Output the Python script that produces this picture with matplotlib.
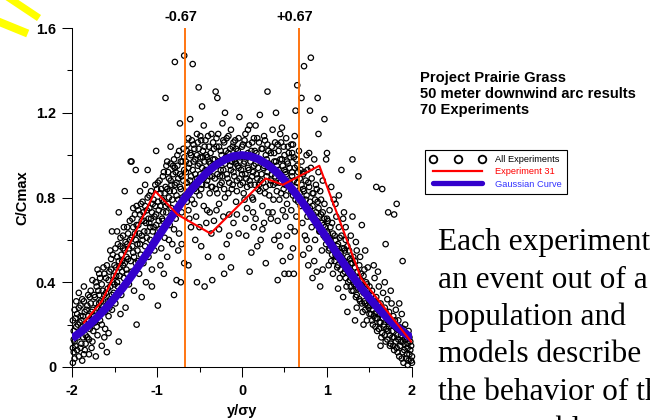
import numpy as np
import matplotlib.pyplot as plt
from matplotlib.lines import Line2D
from matplotlib.ticker import MultipleLocator

plt.rcParams['font.family'] = ['Liberation Sans', 'DejaVu Sans']
plt.rcParams['axes.unicode_minus'] = False

# C/Cmax against y/sigma_y, 50 m arc, all runs (grouped by crosswind band)
band_a = [(-1.99, 0.02), (-1.98, 0.07), (-1.97, 0.12), (-1.98, 0.17), (-1.99, 0.22), (-1.97, 0.27),
          (-1.96, 0.10), (-1.95, 0.19), (-1.94, 0.25), (-1.93, 0.14), (-1.92, 0.05), (-1.91, 0.21),
          (-1.90, 0.29), (-1.89, 0.11), (-1.88, 0.17), (-1.87, 0.24), (-1.86, 0.31), (-1.85, 0.08),
          (-1.84, 0.20), (-1.83, 0.27), (-1.82, 0.14), (-1.81, 0.34), (-1.80, 0.22), (-1.79, 0.18),
          (-1.78, 0.30), (-1.77, 0.26), (-1.76, 0.12), (-1.95, 0.31), (-1.92, 0.35), (-1.86, 0.38),
          (-1.80, 0.06), (-1.78, 0.36), (-1.84, 0.15), (-1.90, 0.24), (-1.76, 0.41), (-1.88, 0.03)]
band_b = [(-1.74, 0.24), (-1.73, 0.33), (-1.72, 0.05), (-1.72, 0.40), (-1.71, 0.19), (-1.70, 0.28),
          (-1.69, 0.36), (-1.68, 0.44), (-1.67, 0.22), (-1.66, 0.31), (-1.65, 0.10), (-1.65, 0.39),
          (-1.64, 0.26), (-1.63, 0.47), (-1.62, 0.34), (-1.61, 0.18), (-1.60, 0.42), (-1.59, 0.07),
          (-1.59, 0.29), (-1.58, 0.37), (-1.57, 0.24), (-1.56, 0.45), (-1.55, 0.32), (-1.54, 0.51),
          (-1.53, 0.64), (-1.53, 0.27), (-1.52, 0.40), (-1.51, 0.35), (-1.50, 0.48), (-1.62, 0.14),
          (-1.68, 0.30), (-1.57, 0.16), (-1.70, 0.46), (-1.55, 0.55)]
band_c = [(-1.49, 0.30), (-1.48, 0.43), (-1.47, 0.52), (-1.46, 0.38), (-1.45, 0.12), (-1.45, 0.73),
          (-1.44, 0.47), (-1.43, 0.57), (-1.42, 0.34), (-1.41, 0.50), (-1.40, 0.62), (-1.39, 0.42),
          (-1.38, 0.83), (-1.38, 0.55), (-1.37, 0.28), (-1.36, 0.46), (-1.35, 0.66), (-1.34, 0.51),
          (-1.33, 0.39), (-1.32, 0.60), (-1.31, 0.97), (-1.30, 0.97), (-1.30, 0.45), (-1.29, 0.70),
          (-1.28, 0.54), (-1.27, 0.36), (-1.26, 0.63), (-1.25, 0.93), (-1.25, 0.49), (-1.24, 0.20),
          (-1.43, 0.25), (-1.35, 0.58), (-1.47, 0.64), (-1.28, 0.75), (-1.40, 0.48)]
band_d = [(-1.24, 0.76), (-1.23, 0.58), (-1.22, 0.67), (-1.21, 0.44), (-1.20, 0.83), (-1.20, 0.72),
          (-1.19, 0.53), (-1.18, 0.62), (-1.17, 0.78), (-1.16, 0.49), (-1.15, 0.69), (-1.14, 0.57),
          (-1.13, 0.40), (-1.12, 0.74), (-1.11, 0.93), (-1.11, 0.64), (-1.10, 0.52), (-1.09, 0.81),
          (-1.08, 0.60), (-1.07, 0.70), (-1.06, 0.46), (-1.05, 0.77), (-1.04, 0.66), (-1.03, 0.55),
          (-1.02, 0.86), (-1.01, 1.02), (-1.01, 0.72), (-1.00, 0.62), (-0.99, 0.87), (-0.99, 0.29),
          (-1.18, 0.33), (-1.06, 0.38), (-1.14, 0.86), (-1.09, 0.68), (-1.22, 0.50), (-1.04, 0.59)]
band_e = [(-0.98, 0.74), (-0.97, 0.65), (-0.96, 0.82), (-0.95, 0.56), (-0.94, 0.70), (-0.93, 0.90),
          (-0.92, 0.78), (-0.91, 0.61), (-0.90, 1.27), (-0.90, 0.85), (-0.89, 0.73), (-0.88, 0.52),
          (-0.87, 0.92), (-0.86, 0.80), (-0.85, 0.67), (-0.84, 1.04), (-0.84, 0.88), (-0.83, 0.75),
          (-0.82, 0.58), (-0.81, 0.95), (-0.80, 0.83), (-0.79, 1.44), (-0.79, 0.94), (-0.78, 0.70),
          (-0.77, 0.87), (-0.76, 1.00), (-0.75, 0.79), (-0.74, 0.63), (-0.73, 1.15), (-0.73, 0.91),
          (-0.72, 0.84), (-0.71, 0.73), (-0.70, 0.97), (-0.69, 0.88), (-0.68, 1.47), (-0.68, 0.99),
          (-0.67, 0.81), (-0.96, 0.48), (-0.92, 0.44), (-0.86, 0.60), (-0.80, 0.65), (-0.75, 0.55),
          (-0.71, 0.58), (-0.68, 0.49), (-0.93, 0.69), (-0.88, 0.97), (-0.77, 0.41), (-0.72, 0.40),
          (-0.80, 0.34)]
band_f = [(-0.66, 0.92), (-0.65, 1.02), (-0.64, 0.85), (-0.63, 1.08), (-0.63, 0.74), (-0.62, 0.96),
          (-0.61, 1.17), (-0.61, 0.88), (-0.60, 1.00), (-0.59, 0.79), (-0.58, 1.43), (-0.58, 0.93),
          (-0.57, 1.05), (-0.56, 0.84), (-0.55, 0.98), (-0.54, 0.71), (-0.53, 1.10), (-0.53, 0.89),
          (-0.52, 0.95), (-0.51, 1.32), (-0.51, 1.03), (-0.50, 0.81), (-0.49, 0.91), (-0.48, 1.07),
          (-0.47, 1.23), (-0.47, 0.86), (-0.46, 0.99), (-0.45, 0.76), (-0.44, 1.04), (-0.43, 0.93),
          (-0.42, 0.68), (-0.41, 0.88), (-0.40, 1.09), (-0.39, 0.97), (-0.38, 0.82), (-0.37, 1.01),
          (-0.36, 0.63), (-0.35, 0.90), (-0.34, 1.06), (-0.33, 0.95), (-0.53, 0.40), (-0.44, 0.38),
          (-0.35, 0.41), (-0.63, 0.48), (-0.55, 0.60), (-0.48, 0.57), (-0.40, 0.52), (-0.60, 0.66),
          (-0.45, 1.14), (-0.65, 0.78), (-0.38, 0.73), (-0.57, 0.86), (-0.49, 0.99), (-0.42, 1.00),
          (-0.36, 0.85)]
band_g = [(-0.32, 0.98), (-0.31, 1.30), (-0.31, 0.84), (-0.30, 1.04), (-0.29, 1.27), (-0.29, 0.91),
          (-0.28, 1.10), (-0.27, 0.77), (-0.26, 0.97), (-0.25, 1.02), (-0.24, 0.87), (-0.23, 1.15),
          (-0.22, 0.93), (-0.21, 0.44), (-0.21, 1.06), (-0.20, 0.80), (-0.19, 0.99), (-0.18, 1.08),
          (-0.17, 0.89), (-0.16, 1.01), (-0.15, 0.72), (-0.14, 0.95), (-0.13, 1.12), (-0.12, 0.84),
          (-0.11, 1.04), (-0.10, 0.92), (-0.09, 0.98), (-0.08, 1.07), (-0.07, 0.78), (-0.06, 0.88),
          (-0.05, 1.02), (-0.04, 0.94), (-0.03, 1.18), (-0.02, 0.86), (-0.01, 1.00), (0.00, 0.91),
          (-0.27, 0.65), (-0.18, 0.58), (-0.10, 0.68), (-0.04, 0.63), (-0.24, 0.52), (-0.13, 0.47),
          (-0.30, 0.74), (-0.16, 0.82), (-0.07, 0.96), (-0.20, 1.20), (-0.26, 0.90), (-0.12, 0.97)]
band_h = [(0.01, 1.05), (0.02, 0.82), (0.03, 0.97), (0.04, 1.10), (0.05, 0.89), (0.06, 0.75),
          (0.07, 1.01), (0.08, 0.93), (0.09, 1.14), (0.10, 0.86), (0.11, 0.54), (0.11, 0.99),
          (0.12, 1.06), (0.13, 0.79), (0.14, 0.95), (0.15, 1.02), (0.16, 0.70), (0.17, 0.91),
          (0.18, 1.08), (0.19, 0.84), (0.20, 0.98), (0.21, 1.19), (0.22, 0.88), (0.23, 1.03),
          (0.24, 0.76), (0.25, 0.94), (0.26, 1.09), (0.27, 0.82), (0.28, 0.49), (0.28, 1.00),
          (0.29, 0.90), (0.30, 1.30), (0.30, 1.05), (0.31, 0.73), (0.32, 0.96), (0.33, 0.86),
          (0.05, 0.62), (0.14, 0.66), (0.22, 0.60), (0.09, 0.45), (0.18, 0.57), (0.26, 0.68),
          (0.03, 0.79), (0.12, 0.90), (0.20, 0.86), (0.27, 0.96), (0.07, 1.12), (0.16, 1.14)]
band_i = [(0.34, 1.01), (0.35, 0.91), (0.36, 1.12), (0.37, 0.79), (0.38, 0.97), (0.39, 1.06),
          (0.40, 1.20), (0.40, 0.87), (0.41, 0.95), (0.42, 0.41), (0.42, 0.69), (0.43, 1.02),
          (0.44, 0.90), (0.45, 1.10), (0.46, 0.82), (0.47, 0.98), (0.48, 0.74), (0.49, 1.04),
          (0.50, 0.44), (0.50, 0.93), (0.51, 0.86), (0.52, 1.08), (0.53, 0.77), (0.54, 0.96),
          (0.55, 0.44), (0.55, 1.01), (0.56, 0.88), (0.57, 0.66), (0.58, 1.05), (0.59, 0.92),
          (0.60, 0.81), (0.61, 0.44), (0.61, 0.99), (0.62, 1.09), (0.63, 1.21), (0.63, 0.85),
          (0.64, 0.71), (0.65, 1.33), (0.65, 0.95), (0.66, 0.78), (0.67, 1.02), (0.38, 0.60),
          (0.45, 0.57), (0.53, 0.62), (0.60, 0.56), (0.48, 0.50), (0.36, 0.73), (0.57, 0.52),
          (0.44, 0.79), (0.52, 0.91), (0.59, 1.01), (0.47, 1.13)]
band_j = [(0.68, 0.89), (0.69, 0.76), (0.70, 1.27), (0.70, 0.97), (0.71, 0.68), (0.72, 0.84),
          (0.73, 1.42), (0.73, 0.92), (0.74, 0.62), (0.75, 0.79), (0.76, 1.00), (0.77, 0.71),
          (0.78, 0.87), (0.79, 1.01), (0.79, 0.56), (0.80, 1.21), (0.80, 0.75), (0.81, 1.46),
          (0.81, 0.94), (0.82, 0.66), (0.83, 0.42), (0.83, 0.82), (0.84, 0.72), (0.85, 0.98),
          (0.86, 0.60), (0.87, 0.86), (0.88, 0.69), (0.89, 1.27), (0.89, 0.78), (0.90, 1.10),
          (0.90, 0.92), (0.91, 0.64), (0.92, 0.38), (0.92, 0.83), (0.93, 0.72), (0.94, 0.55),
          (0.95, 0.88), (0.96, 0.67), (0.97, 1.17), (0.97, 0.77), (0.98, 0.61), (0.99, 0.98),
          (1.00, 1.01), (1.00, 0.70), (0.72, 0.53), (0.78, 0.48), (0.85, 0.50), (0.88, 0.45),
          (0.95, 0.46), (0.76, 0.60)]
band_k = [(1.01, 0.63), (1.02, 0.55), (1.03, 0.74), (1.04, 0.60), (1.05, 0.50), (1.06, 0.68),
          (1.07, 0.57), (1.08, 0.79), (1.09, 0.62), (1.10, 0.53), (1.11, 0.71), (1.12, 0.47),
          (1.13, 0.58), (1.14, 0.66), (1.15, 0.42), (1.16, 0.54), (1.17, 0.93), (1.17, 0.62),
          (1.18, 0.49), (1.19, 0.70), (1.20, 0.56), (1.21, 0.45), (1.22, 0.60), (1.23, 0.38),
          (1.24, 0.52), (1.24, 0.26), (1.25, 0.47), (1.05, 0.85), (1.10, 0.77), (1.14, 0.81),
          (1.20, 0.73), (1.07, 0.44), (1.13, 0.37), (1.19, 0.33), (1.02, 0.48), (1.22, 0.66)]
band_l = [(1.26, 0.55), (1.27, 0.41), (1.28, 0.49), (1.29, 0.36), (1.30, 0.98), (1.30, 0.71),
          (1.30, 0.44), (1.31, 0.52), (1.32, 0.39), (1.33, 0.22), (1.33, 0.47), (1.34, 0.33),
          (1.35, 0.28), (1.35, 0.55), (1.36, 0.42), (1.37, 0.90), (1.37, 0.37), (1.38, 0.48),
          (1.39, 0.31), (1.40, 0.44), (1.41, 0.67), (1.41, 0.38), (1.42, 0.26), (1.43, 0.35),
          (1.44, 0.46), (1.45, 0.30), (1.46, 0.40), (1.47, 0.22), (1.48, 0.34), (1.49, 0.28),
          (1.50, 0.38), (1.28, 0.62), (1.34, 0.59), (1.39, 0.52), (1.45, 0.55), (1.48, 0.47),
          (1.43, 0.20)]
band_m = [(1.51, 0.31), (1.52, 0.25), (1.53, 0.36), (1.54, 0.20), (1.55, 0.29), (1.56, 0.42),
          (1.57, 0.23), (1.58, 0.85), (1.58, 0.33), (1.59, 0.17), (1.60, 0.27), (1.61, 0.38),
          (1.62, 0.21), (1.63, 0.30), (1.64, 0.14), (1.65, 0.84), (1.65, 0.25), (1.66, 0.35),
          (1.67, 0.19), (1.68, 0.28), (1.69, 0.58), (1.69, 0.12), (1.70, 0.23), (1.71, 0.32),
          (1.72, 0.73), (1.72, 0.17), (1.73, 0.26), (1.74, 0.10), (1.75, 0.21), (1.76, 0.30),
          (1.77, 0.14), (1.78, 0.24), (1.79, 0.72), (1.79, 0.08), (1.80, 0.19), (1.81, 0.27),
          (1.82, 0.77), (1.82, 0.09), (1.83, 0.15), (1.84, 0.22), (1.85, 0.05), (1.86, 0.18),
          (1.87, 0.12), (1.88, 0.25), (1.89, 0.50), (1.89, 0.07), (1.90, 0.02), (1.90, 0.16),
          (1.91, 0.11), (1.92, 0.20), (1.93, 0.04), (1.94, 0.14), (1.95, 0.01), (1.95, 0.09),
          (1.96, 0.17), (1.97, 0.06), (1.98, 0.12), (1.99, 0.03), (2.00, 0.02), (2.00, 0.05),
          (1.60, 0.45), (1.68, 0.40), (1.75, 0.36), (1.55, 0.48), (1.63, 0.10), (1.85, 0.30)]
more_left = [(-1.99, 0.09), (-1.98, 0.13), (-1.97, 0.04), (-1.96, 0.23), (-1.95, 0.15), (-1.94, 0.08),
             (-1.93, 0.20), (-1.92, 0.28), (-1.91, 0.16), (-1.90, 0.09), (-1.89, 0.22), (-1.88, 0.32),
             (-1.87, 0.14), (-1.86, 0.06), (-1.85, 0.26), (-1.84, 0.11), (-1.83, 0.19), (-1.82, 0.29),
             (-1.81, 0.24), (-1.80, 0.13), (-1.79, 0.33), (-1.78, 0.20), (-1.77, 0.09), (-1.76, 0.27),
             (-1.75, 0.17), (-1.74, 0.34), (-1.73, 0.21), (-1.72, 0.30), (-1.71, 0.38), (-1.70, 0.15),
             (-1.69, 0.25), (-1.68, 0.34), (-1.67, 0.42), (-1.66, 0.27), (-1.65, 0.20), (-1.64, 0.36),
             (-1.63, 0.31), (-1.62, 0.44), (-1.61, 0.26), (-1.60, 0.35), (-1.59, 0.48), (-1.58, 0.31),
             (-1.57, 0.41), (-1.56, 0.28), (-1.55, 0.38), (-1.54, 0.46), (-1.53, 0.34), (-1.52, 0.53),
             (-1.51, 0.43), (-1.50, 0.39), (-1.49, 0.56), (-1.48, 0.47), (-1.47, 0.40), (-1.46, 0.58),
             (-1.45, 0.50), (-1.44, 0.43), (-1.43, 0.61), (-1.42, 0.53), (-1.41, 0.45), (-1.40, 0.56),
             (-1.39, 0.66), (-1.38, 0.49), (-1.37, 0.59), (-1.36, 0.52), (-1.35, 0.44), (-1.34, 0.63),
             (-1.33, 0.56), (-1.32, 0.69), (-1.31, 0.50), (-1.30, 0.61), (-1.29, 0.57), (-1.28, 0.66),
             (-1.27, 0.52), (-1.26, 0.72), (-1.25, 0.60), (-1.24, 0.67), (-1.23, 0.55), (-1.22, 0.74),
             (-1.21, 0.63), (-1.20, 0.58), (-1.19, 0.77), (-1.18, 0.69), (-1.17, 0.60), (-1.16, 0.73),
             (-1.15, 0.64), (-1.14, 0.76), (-1.13, 0.68), (-1.12, 0.61), (-1.11, 0.80), (-1.10, 0.70),
             (-1.09, 0.75), (-1.08, 0.66), (-1.07, 0.83), (-1.06, 0.73), (-1.05, 0.64), (-1.04, 0.79),
             (-1.03, 0.71), (-1.02, 0.76), (-1.01, 0.67), (-1.00, 0.84), (-0.99, 0.78), (-0.98, 0.69),
             (-0.97, 0.88), (-0.96, 0.76), (-0.95, 0.84), (-0.94, 0.79), (-0.93, 0.73), (-0.92, 0.92),
             (-0.91, 0.82), (-0.90, 0.76), (-0.89, 0.95), (-0.88, 0.84), (-0.87, 0.77), (-0.86, 0.89),
             (-0.85, 0.83), (-0.84, 0.96), (-0.83, 0.86), (-0.82, 0.79), (-0.81, 0.91), (-0.80, 0.98),
             (-0.79, 0.86), (-0.78, 0.92), (-0.77, 0.81), (-0.76, 0.95), (-0.75, 0.89), (-0.74, 1.02),
             (-0.73, 0.85), (-0.72, 0.97), (-0.71, 0.90), (-0.70, 0.80), (-0.69, 1.03), (-0.68, 0.93)]
more_centre = [(-0.66, 0.97), (-0.65, 0.87), (-0.64, 1.05), (-0.63, 0.94), (-0.62, 0.82), (-0.61, 1.01),
               (-0.60, 0.90), (-0.59, 1.07), (-0.58, 0.85), (-0.57, 0.97), (-0.56, 1.03), (-0.55, 0.91),
               (-0.54, 0.83), (-0.53, 1.00), (-0.52, 1.06), (-0.51, 0.88), (-0.50, 0.96), (-0.49, 1.09),
               (-0.48, 0.84), (-0.47, 0.94), (-0.46, 1.02), (-0.45, 0.89), (-0.44, 0.97), (-0.43, 1.07),
               (-0.42, 0.86), (-0.41, 0.99), (-0.40, 0.93), (-0.39, 1.04), (-0.38, 0.90), (-0.37, 0.96),
               (-0.36, 1.10), (-0.35, 0.85), (-0.34, 0.98), (-0.33, 1.03), (-0.32, 0.89), (-0.31, 0.95),
               (-0.30, 1.08), (-0.29, 0.82), (-0.28, 0.97), (-0.27, 1.04), (-0.26, 0.86), (-0.25, 0.93),
               (-0.24, 1.00), (-0.23, 0.90), (-0.22, 1.07), (-0.21, 0.84), (-0.20, 0.96), (-0.19, 1.02),
               (-0.18, 0.91), (-0.17, 0.98), (-0.16, 1.09), (-0.15, 0.87), (-0.14, 1.03), (-0.13, 0.93),
               (-0.12, 0.99), (-0.11, 0.86), (-0.10, 1.06), (-0.09, 0.90), (-0.08, 0.97), (-0.07, 1.03),
               (-0.06, 0.83), (-0.05, 0.95), (-0.04, 1.08), (-0.03, 0.89), (-0.02, 0.99), (-0.01, 0.93),
               (0.00, 1.04), (0.01, 0.87), (0.02, 0.96), (0.03, 1.07), (0.04, 0.91), (0.05, 0.99),
               (0.06, 0.85), (0.07, 0.94), (0.08, 1.05), (0.09, 0.88), (0.10, 0.97), (0.11, 1.02),
               (0.12, 0.80), (0.13, 0.92), (0.14, 1.08), (0.15, 0.86), (0.16, 0.96), (0.17, 1.01),
               (0.18, 0.89), (0.19, 0.94), (0.20, 1.06), (0.21, 0.83), (0.22, 0.97), (0.23, 0.91),
               (0.24, 1.03), (0.25, 0.87), (0.26, 0.95), (0.27, 1.07), (0.28, 0.85), (0.29, 0.98),
               (0.30, 0.92), (0.31, 1.02), (0.32, 0.81), (0.33, 0.95), (0.34, 0.88), (0.35, 1.04),
               (0.36, 0.93), (0.37, 0.86), (0.38, 1.01), (0.39, 0.90), (0.40, 0.97), (0.41, 0.83),
               (0.42, 1.05), (0.43, 0.93), (0.44, 0.87), (0.45, 0.98), (0.46, 1.06), (0.47, 0.89),
               (0.48, 0.95), (0.49, 0.84), (0.50, 1.00), (0.51, 0.92), (0.52, 0.81), (0.53, 0.97),
               (0.54, 1.04), (0.55, 0.87), (0.56, 0.94), (0.57, 0.99), (0.58, 0.83), (0.59, 0.90),
               (0.60, 1.05), (0.61, 0.88), (0.62, 0.94), (0.63, 0.79), (0.64, 0.98), (0.65, 0.87),
               (0.66, 0.92), (-0.62, 0.70), (-0.50, 0.66), (-0.41, 0.74), (-0.33, 0.69), (-0.22, 0.71),
               (-0.15, 0.62), (-0.06, 0.72), (0.04, 0.70), (0.13, 0.73), (0.24, 0.65), (0.34, 0.70),
               (0.43, 0.62), (0.51, 0.71), (0.62, 0.64), (-0.56, 0.77), (0.58, 0.74)]
more_right = [(0.68, 0.82), (0.69, 0.93), (0.70, 0.86), (0.71, 0.79), (0.72, 0.91), (0.73, 0.83),
              (0.74, 0.76), (0.75, 0.88), (0.76, 0.81), (0.77, 0.93), (0.78, 0.74), (0.79, 0.85),
              (0.80, 0.78), (0.81, 0.71), (0.82, 0.89), (0.83, 0.76), (0.84, 0.82), (0.85, 0.70),
              (0.86, 0.79), (0.87, 0.73), (0.88, 0.84), (0.89, 0.67), (0.90, 0.75), (0.91, 0.71),
              (0.92, 0.64), (0.93, 0.79), (0.94, 0.68), (0.95, 0.73), (0.96, 0.62), (0.97, 0.70),
              (0.98, 0.66), (0.99, 0.58), (1.00, 0.64), (1.01, 0.69), (1.02, 0.61), (1.03, 0.56),
              (1.04, 0.66), (1.05, 0.58), (1.06, 0.53), (1.07, 0.63), (1.08, 0.55), (1.09, 0.50),
              (1.10, 0.60), (1.11, 0.52), (1.12, 0.57), (1.13, 0.48), (1.14, 0.53), (1.15, 0.61),
              (1.16, 0.46), (1.17, 0.52), (1.18, 0.56), (1.19, 0.44), (1.20, 0.50), (1.21, 0.55),
              (1.22, 0.42), (1.23, 0.48), (1.24, 0.57), (1.25, 0.40), (1.26, 0.46), (1.27, 0.51),
              (1.28, 0.38), (1.29, 0.43), (1.30, 0.49), (1.31, 0.36), (1.32, 0.42), (1.33, 0.50),
              (1.34, 0.39), (1.35, 0.34), (1.36, 0.45), (1.37, 0.40), (1.38, 0.32), (1.39, 0.37),
              (1.40, 0.41), (1.41, 0.30), (1.42, 0.36), (1.43, 0.43), (1.44, 0.31), (1.45, 0.27),
              (1.46, 0.35), (1.47, 0.39), (1.48, 0.29), (1.49, 0.33), (1.50, 0.25), (1.51, 0.29),
              (1.52, 0.34), (1.53, 0.22), (1.54, 0.27), (1.55, 0.24), (1.56, 0.31), (1.57, 0.19),
              (1.58, 0.26), (1.59, 0.23), (1.60, 0.30), (1.61, 0.18), (1.62, 0.25), (1.63, 0.21),
              (1.64, 0.28), (1.65, 0.16), (1.66, 0.23), (1.67, 0.20), (1.68, 0.15), (1.69, 0.26),
              (1.70, 0.18), (1.71, 0.13), (1.72, 0.22), (1.73, 0.19), (1.74, 0.15), (1.75, 0.11),
              (1.76, 0.20), (1.77, 0.17), (1.78, 0.10), (1.79, 0.14), (1.80, 0.22), (1.81, 0.12),
              (1.82, 0.18), (1.83, 0.07), (1.84, 0.13), (1.85, 0.19), (1.86, 0.10), (1.87, 0.15),
              (1.88, 0.04), (1.89, 0.12), (1.90, 0.18), (1.91, 0.08), (1.92, 0.13), (1.93, 0.16),
              (1.94, 0.06), (1.95, 0.11), (1.96, 0.03), (1.97, 0.14), (1.98, 0.08), (1.99, 0.10)]

# experiment 31
exp31_x = [-1.86, -1.65, -1.02, -0.76, -0.37, 0.28, 0.48, 0.91, 1.40, 1.99]
exp31_y = [0.21, 0.31, 0.83, 0.72, 0.63, 0.89, 0.86, 0.95, 0.42, 0.12]

# gaussian profile
gauss_x = [-2.0, -1.9, -1.8, -1.7, -1.6, -1.5, -1.4, -1.3, -1.2, -1.1, -1.0,
           -0.9, -0.8, -0.7, -0.6, -0.5, -0.4, -0.3, -0.2, -0.1, 0.0,
           0.1, 0.2, 0.3, 0.4, 0.5, 0.6, 0.7, 0.8, 0.9, 1.0,
           1.1, 1.2, 1.3, 1.4, 1.5, 1.6, 1.7, 1.8, 1.9, 2.0]
gauss_y = [0.135, 0.164, 0.198, 0.236, 0.278, 0.325, 0.375, 0.430, 0.487, 0.546, 0.607,
           0.667, 0.726, 0.783, 0.835, 0.882, 0.923, 0.956, 0.980, 0.995, 1.000,
           0.995, 0.980, 0.956, 0.923, 0.882, 0.835, 0.783, 0.726, 0.667, 0.607,
           0.546, 0.487, 0.430, 0.375, 0.325, 0.278, 0.236, 0.198, 0.164, 0.135]

quartiles = [-0.67, 0.67]
quartile_labels = ['-0.67', '+0.67']
x_ticks = [-2, -1, 0, 1, 2]
x_tick_labels = ['-2', '-1', '0', '1', '2']
y_ticks = [0, 0.4, 0.8, 1.2, 1.6]
y_tick_labels = ['0', '0.4', '0.8', '1.2', '1.6']

blue = '#3300cc'
orange = '#ff6a00'

pts = np.array(band_a + band_b + band_c + band_d + band_e + band_f + band_g +
               band_h + band_i + band_j + band_k + band_l + band_m +
               more_left + more_centre + more_right)

fig = plt.figure(figsize=(6.5, 4.2), dpi=100)
ax = fig.add_axes([0.1108, 0.1262, 0.523, 0.807])

ax.scatter(pts[:, 0], pts[:, 1], s=15, facecolors='none', edgecolors='black',
           linewidths=0.9, clip_on=False, zorder=2)
ax.vlines(quartiles, 0, 1.6, color=orange, lw=1.3, zorder=3)
ax.plot(gauss_x, gauss_y, color=blue, lw=5.8, solid_capstyle='butt', zorder=4)
ax.plot(exp31_x, exp31_y, color='red', lw=1.5, zorder=5)

for q, lab in zip(quartiles, quartile_labels):
    ax.annotate(lab, xy=(q, 1.6), xytext=(-3, 8), textcoords='offset points',
                ha='center', va='center', fontsize=10.4, fontweight='bold')

ax.set_xlim(-2, 2)
ax.set_ylim(0, 1.6)
ax.set_xticks(x_ticks)
ax.set_xticklabels(x_tick_labels)
ax.set_yticks(y_ticks)
ax.set_yticklabels(y_tick_labels)
ax.xaxis.set_minor_locator(MultipleLocator(0.5))
ax.yaxis.set_minor_locator(MultipleLocator(0.2))
ax.tick_params(which='major', direction='out', length=7.5, width=0.75, labelsize=10.4)
ax.tick_params(which='minor', direction='out', length=3.8, width=0.75)
ax.tick_params(axis='x', pad=5)
ax.tick_params(axis='y', pad=4)
for t in ax.get_xticklabels() + ax.get_yticklabels():
    t.set_fontweight('bold')
for side in ('top', 'right'):
    ax.spines[side].set_visible(False)
for side in ('left', 'bottom'):
    ax.spines[side].set_linewidth(0.75)

ax.set_xlabel('y/σy', fontsize=10.5, fontweight='bold')
ax.xaxis.set_label_coords(0.5, -0.108)
ax.set_ylabel('C/Cmax', fontsize=10.5, fontweight='bold')
ax.yaxis.set_label_coords(-0.124, 0.5)

# legend
handles = [
    Line2D([], [], ls='none', marker='o', mfc='none', mec='black', ms=5.5, mew=1.3),
    Line2D([], [], color='red', lw=1.6),
    Line2D([], [], color=blue, lw=3.8, solid_capstyle='round'),
]
labels = ['All Experiments', 'Experiment 31', 'Gaussian Curve']
fig.legend(handles, labels, loc='upper left', bbox_to_anchor=(425 / 650, 1 - 150 / 420),
           numpoints=3, fontsize=6.7, handlelength=5.9, handletextpad=1.05,
           labelspacing=0.35, borderpad=0.55, borderaxespad=0, fancybox=False,
           framealpha=1, edgecolor='black', labelcolor=['black', 'red', '#3333ff'])
fig.legends[0].get_frame().set_linewidth(0.8)

# title block
for i, line in enumerate(['Project Prairie Grass', '50 meter downwind arc results', '70 Experiments']):
    fig.text(420 / 650, 1 - (82 + 15.8 * i) / 420, line, fontsize=10.6,
             fontweight='bold', va='baseline', ha='left')

# slide text next to the chart
slide_lines = ['Each experiment is', 'an event out of a', 'population and',
               'models describe', 'the behavior of the', 'an ensemble']
for i, line in enumerate(slide_lines):
    fig.text(438 / 650, 1 - (250 + 37.5 * i) / 420, line, fontsize=22.6,
             family='Liberation Serif', va='baseline', ha='left')

# yellow highlight strokes in the corner
fig.add_artist(Line2D([9 / 650, 36 / 650], [1 + 2 / 420, 1 - 16 / 420],
                      color='#ffff00', lw=5.2, transform=fig.transFigure))
fig.add_artist(Line2D([-3 / 650, 24 / 650], [1 - 21 / 420, 1 - 32 / 420],
                      color='#ffff00', lw=5.8, transform=fig.transFigure))

fig.savefig('out.png', dpi=100)
